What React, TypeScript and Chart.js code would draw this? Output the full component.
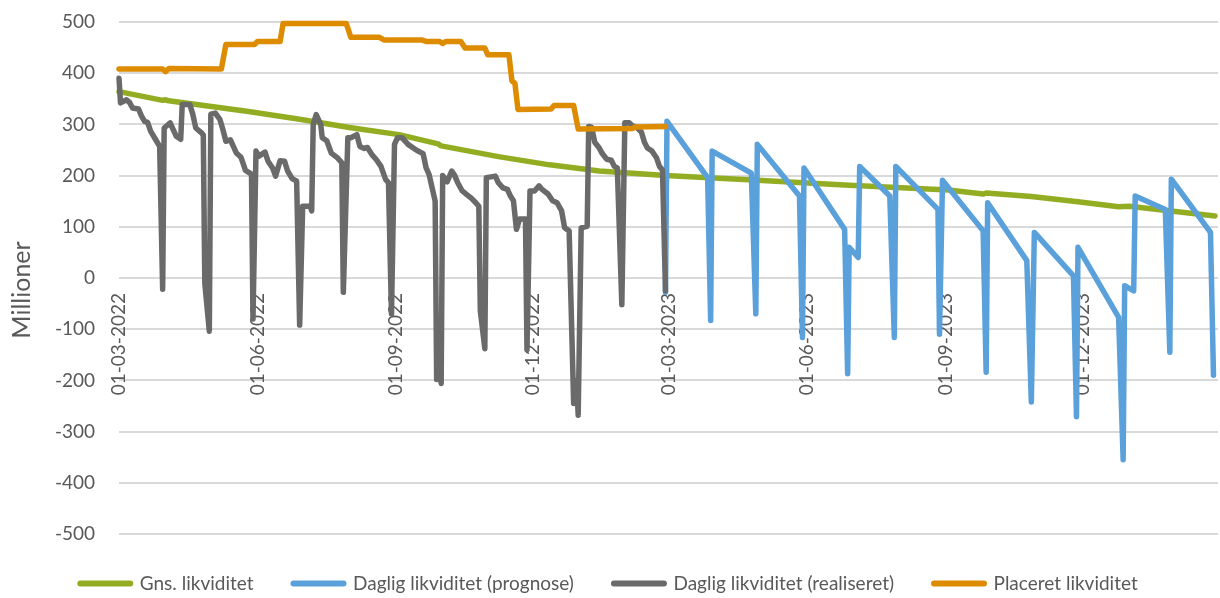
import React, { useEffect, useRef } from 'react';
import { Chart, registerables } from 'chart.js';

Chart.register(...registerables);

// x values are days counted from 01-03-2022
const tickDays = [0, 92, 184, 275, 365, 457, 549, 640];
const tickLabels = ['01-03-2022', '01-06-2022', '01-09-2022', '01-12-2022', '01-03-2023', '01-06-2023', '01-09-2023', '01-12-2023'];

const seriesNames = ['Gns. likviditet', 'Daglig likviditet (prognose)', 'Daglig likviditet (realiseret)', 'Placeret likviditet'];
const seriesColors = ['#93ad23', '#5aa0da', '#6a6a6a', '#dd8c00'];

const avgDays = [0, 29, 31, 33, 86, 120, 153, 186, 212, 214, 252, 286, 319, 363, 418, 485, 551, 574, 576, 606, 637, 664, 671, 728];
const avgValues = [364, 347, 348, 346, 325, 310, 294, 280, 262, 258, 237, 221, 209, 200, 192, 181, 172, 164, 166, 159, 149, 139, 140, 121];

const forecastDays = [363, 364, 391, 393, 394, 420, 423, 424, 452, 454, 455, 482, 484, 485, 491, 492, 512, 515, 516, 544, 545, 547, 574, 576, 577, 603, 606, 608, 634, 636, 637, 664, 667, 668, 674, 675, 695, 698, 699, 725, 727];
const forecastValues = [-28, 306, 196, -83, 248, 205, -70, 261, 160, -116, 215, 95, -187, 60, 40, 218, 160, -116, 218, 134, -110, 191, 92, -184, 147, 34, -242, 89, 4, -271, 60, -77, -355, -15, -25, 160, 134, -145, 193, 89, -190];

const realDays = [0, 1, 5, 7, 9, 13, 15, 17, 19, 21, 24, 27, 29, 30, 34, 36, 38, 41, 42, 47, 49, 51, 55, 56, 57, 60, 61, 64, 67, 69, 71, 74, 78, 81, 84, 88, 89, 91, 93, 97, 99, 102, 104, 107, 110, 112, 115, 118, 120, 122, 127, 128, 129, 131, 134, 135, 138, 141, 145, 148, 149, 152, 154, 158, 160, 163, 165, 168, 171, 174, 177, 179, 181, 183, 185, 188, 192, 195, 198, 202, 204, 206, 208, 210, 211, 213, 214, 215, 218, 221, 223, 225, 228, 231, 234, 237, 239, 240, 243, 244, 250, 252, 255, 258, 260, 262, 264, 266, 270, 271, 273, 276, 279, 281, 285, 288, 291, 294, 296, 299, 302, 304, 305, 307, 311, 312, 314, 316, 319, 321, 324, 327, 329, 331, 334, 336, 339, 341, 344, 347, 349, 351, 354, 357, 359, 361, 363];
const realValues = [390, 342, 348, 343, 332, 330, 316, 306, 304, 287, 272, 257, -22, 293, 303, 290, 277, 271, 339, 339, 320, 293, 283, 279, -10, -104, 320, 322, 310, 290, 267, 270, 244, 236, 210, 203, -80, 248, 238, 246, 228, 215, 199, 229, 228, 209, 194, 189, -92, 140, 140, 131, 300, 319, 300, 274, 268, 244, 235, 225, -28, 274, 274, 280, 257, 253, 255, 241, 231, 218, 193, 186, -70, 261, 274, 274, 261, 255, 249, 243, 215, 202, 176, 150, -198, -180, -206, 200, 188, 209, 200, 186, 170, 163, 156, 147, 140, -64, -138, 196, 199, 186, 176, 173, 160, 151, 95, 115, 115, -140, 170, 170, 180, 173, 164, 151, 147, 131, 98, 92, -245, -200, -268, 98, 101, 296, 294, 265, 254, 243, 232, 230, 218, 215, -52, 303, 303, 297, 294, 285, 265, 254, 248, 235, 218, 211, -25];

const placedDays = [0, 29, 31, 33, 68, 71, 90, 92, 107, 109, 151, 154, 173, 176, 201, 204, 213, 215, 217, 227, 230, 243, 245, 259, 261, 263, 265, 287, 289, 302, 305, 341, 343, 363];
const placedValues = [408, 408, 403, 409, 408, 456, 456, 462, 462, 497, 497, 470, 470, 465, 465, 462, 462, 458, 462, 462, 449, 449, 436, 436, 385, 380, 329, 330, 337, 337, 291, 292, 295, 296];

const yTitle = 'Millioner';
const TEXT = '#595959';
const FONT = 'Lato';

export default function App() {
  const ref = useRef<HTMLCanvasElement>(null);

  useEffect(() => {
    document.body.style.margin = '0';
    const canvas = ref.current;
    if (!canvas) return;
    const pts = (d: number[], v: number[]) => d.map((x, i) => ({ x, y: v[i] }));

    const zeroAxisLabels = {
      id: 'zeroAxisLabels',
      beforeDatasetsDraw(chart: any) {
        const { ctx, scales } = chart;
        const y0 = scales.y.getPixelForValue(0);
        ctx.save();
        ctx.fillStyle = TEXT;
        ctx.font = `19px ${FONT}`;
        ctx.textAlign = 'right';
        ctx.textBaseline = 'middle';
        tickDays.forEach((d, i) => {
          const px = scales.x.getPixelForValue(d);
          ctx.save();
          ctx.translate(px, y0 + 15);
          ctx.rotate(-Math.PI / 2);
          ctx.fillText(tickLabels[i], 0, 0);
          ctx.restore();
        });
        ctx.restore();
      },
      afterDraw(chart: any) {
        const { ctx } = chart;
        ctx.save();
        ctx.fillStyle = TEXT;
        ctx.font = `25px ${FONT}`;
        ctx.textAlign = 'center';
        ctx.textBaseline = 'middle';
        ctx.translate(22, 290);
        ctx.rotate(-Math.PI / 2);
        ctx.fillText(yTitle, 0, 0);
        ctx.restore();
      },
    };

    const allDays = [avgDays, forecastDays, realDays, placedDays];
    const allValues = [avgValues, forecastValues, realValues, placedValues];
    const orders = [4, 3, 2, 1];

    const chart = new Chart(canvas, {
      type: 'line',
      data: {
        datasets: seriesNames.map((name, i) => ({
          label: name,
          data: pts(allDays[i], allValues[i]),
          borderColor: seriesColors[i],
          backgroundColor: seriesColors[i],
          borderWidth: 5.5,
          borderCapStyle: 'round',
          borderJoinStyle: 'round',
          pointRadius: 0,
          tension: 0,
          fill: false,
          order: orders[i],
          clip: 8,
        })),
      },
      options: {
        responsive: false,
        animation: false,
        events: [],
        layout: { padding: { left: 0, right: 2, top: 22, bottom: -5 } },
        scales: {
          x: {
            type: 'linear',
            min: 0,
            max: 730,
            display: false,
          },
          y: {
            min: -500,
            max: 500,
            afterFit: (scale: any) => {
              scale.width = 119;
            },
            ticks: {
              stepSize: 100,
              padding: 0,
              color: TEXT,
              font: { family: FONT, size: 19 },
            },
            grid: {
              color: '#d9d9d9',
              lineWidth: 2,
              drawTicks: true,
              tickLength: 24,
              tickColor: 'rgba(0,0,0,0)',
            },
            border: { display: false },
          },
        },
        plugins: {
          tooltip: { enabled: false },
          legend: {
            position: 'bottom',
            labels: {
              usePointStyle: true,
              pointStyle: 'line',
              pointStyleWidth: 50,
              padding: 40,
              color: TEXT,
              font: { family: FONT, size: 19 },
              sort: (a: any, b: any) => a.datasetIndex - b.datasetIndex,
              generateLabels: (c: any) =>
                (Chart.defaults.plugins.legend.labels.generateLabels as any)(c).map((it: any) => ({
                  ...it,
                  lineWidth: 6,
                  lineCap: 'round',
                  strokeStyle: seriesColors[it.datasetIndex],
                  fillStyle: seriesColors[it.datasetIndex],
                })),
            },
          },
        },
      } as any,
      plugins: [zeroAxisLabels],
    });

    return () => chart.destroy();
  }, []);

  return (
    <div style={{ width: 1220, height: 598 }}>
      <canvas ref={ref} width={1220} height={598} />
    </div>
  );
}
